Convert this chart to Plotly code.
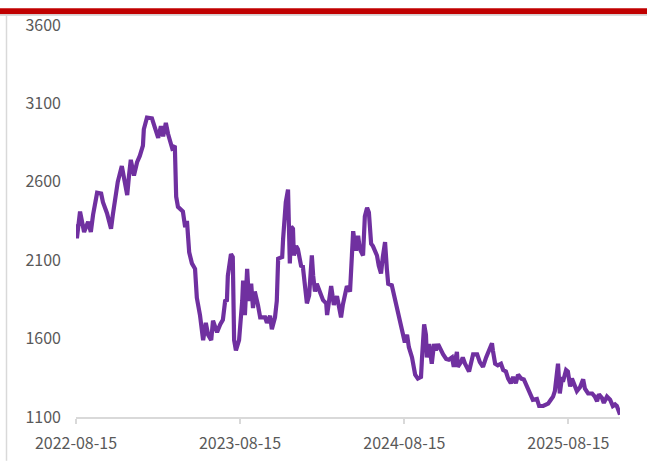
import plotly.graph_objects as go

dates = [
    "2022-08-15", "2022-08-17", "2022-08-24", "2022-09-02", "2022-09-11", "2022-09-17", "2022-09-22",
    "2022-10-01", "2022-10-10", "2022-10-14", "2022-10-23", "2022-11-01", "2022-11-05", "2022-11-10",
    "2022-11-16", "2022-11-25", "2022-11-30", "2022-12-07", "2022-12-11", "2022-12-15", "2022-12-22",
    "2022-12-29", "2023-01-04", "2023-01-11", "2023-01-13", "2023-01-20", "2023-01-31", "2023-02-09",
    "2023-02-14", "2023-02-20", "2023-02-25", "2023-03-03", "2023-03-08", "2023-03-17", "2023-03-23",
    "2023-03-26", "2023-03-30", "2023-04-10", "2023-04-15", "2023-04-19", "2023-04-24", "2023-04-30",
    "2023-05-07", "2023-05-11", "2023-05-18", "2023-05-25", "2023-05-31", "2023-06-05", "2023-06-12",
    "2023-06-16", "2023-06-25", "2023-07-02", "2023-07-08", "2023-07-13", "2023-07-17", "2023-07-19",
    "2023-07-26", "2023-07-30", "2023-08-02", "2023-08-06", "2023-08-13", "2023-08-20", "2023-08-22",
    "2023-08-26", "2023-08-31", "2023-09-04", "2023-09-09", "2023-09-13", "2023-09-17", "2023-09-24",
    "2023-09-29", "2023-10-10", "2023-10-14", "2023-10-21", "2023-10-25", "2023-11-01", "2023-11-05",
    "2023-11-08", "2023-11-17", "2023-11-19", "2023-11-21", "2023-11-25", "2023-11-30", "2023-12-02",
    "2023-12-04", "2023-12-07", "2023-12-11", "2023-12-13", "2023-12-18", "2023-12-22", "2023-12-29",
    "2024-01-02", "2024-01-07", "2024-01-11", "2024-01-16", "2024-01-22", "2024-01-25", "2024-01-29",
    "2024-02-02", "2024-02-07", "2024-02-11", "2024-02-16", "2024-02-23", "2024-02-25", "2024-03-05",
    "2024-03-11", "2024-03-18", "2024-03-27", "2024-03-31", "2024-04-09", "2024-04-16", "2024-04-20",
    "2024-04-23", "2024-04-29", "2024-05-04", "2024-05-08", "2024-05-15", "2024-05-19", "2024-05-24",
    "2024-05-28", "2024-06-02", "2024-06-06", "2024-06-15", "2024-06-19", "2024-06-24", "2024-06-28",
    "2024-07-03", "2024-07-07", "2024-07-10", "2024-07-18", "2024-07-23", "2024-07-30", "2024-08-05",
    "2024-08-12", "2024-08-16", "2024-08-21", "2024-08-25", "2024-09-01", "2024-09-08", "2024-09-14",
    "2024-09-21", "2024-09-23", "2024-09-28", "2024-10-02", "2024-10-04", "2024-10-09", "2024-10-15",
    "2024-10-20", "2024-10-24", "2024-10-29", "2024-11-04", "2024-11-09", "2024-11-16", "2024-11-22",
    "2024-11-29", "2024-12-03", "2024-12-10", "2024-12-12", "2024-12-19", "2024-12-23", "2024-12-28",
    "2025-01-06", "2025-01-15", "2025-01-24", "2025-01-30", "2025-02-06", "2025-02-13", "2025-02-19",
    "2025-02-26", "2025-02-28", "2025-03-05", "2025-03-11", "2025-03-18", "2025-03-23", "2025-03-29",
    "2025-04-03", "2025-04-09", "2025-04-14", "2025-04-20", "2025-04-25", "2025-05-02", "2025-05-08",
    "2025-05-15", "2025-05-22", "2025-05-28", "2025-06-06", "2025-06-11", "2025-06-20", "2025-06-26",
    "2025-07-01", "2025-07-07", "2025-07-12", "2025-07-16", "2025-07-21", "2025-07-23", "2025-07-27",
    "2025-08-01", "2025-08-03", "2025-08-10", "2025-08-14", "2025-08-19", "2025-08-23", "2025-08-30",
    "2025-09-03", "2025-09-10", "2025-09-17", "2025-09-21", "2025-09-28", "2025-10-07", "2025-10-13",
    "2025-10-18", "2025-10-22", "2025-10-29", "2025-11-02", "2025-11-09", "2025-11-16", "2025-11-22",
    "2025-11-27", "2025-12-01", "2025-12-06", "2025-12-08",
]

values = [
    2330, 2240, 2410, 2280, 2345, 2280, 2390,
    2530, 2525, 2470, 2400, 2300, 2390, 2505,
    2600, 2700, 2610, 2515, 2640, 2740, 2640,
    2725, 2765, 2830, 2935, 3010, 3005, 2935,
    2880, 2955, 2890, 2975, 2905, 2815, 2830,
    2505, 2440, 2410, 2310, 2350, 2150, 2080,
    2045, 1860, 1750, 1590, 1700, 1625, 1590,
    1715, 1640, 1690, 1720, 1840, 1845, 2000,
    2140, 2120, 1590, 1525, 1590, 1840, 1970,
    1750, 2045, 1840, 1950, 1795, 1900, 1815,
    1735, 1735, 1700, 1745, 1660, 1735, 1840,
    2110, 2120, 2235, 2360, 2470, 2550, 2300,
    2080, 2315, 2300, 2130, 2190, 2170, 2065,
    2060, 1940, 1825, 1875, 2130, 2000, 1900,
    1950, 1910, 1880, 1845, 1825, 1750, 1935,
    1815, 1870, 1735, 1815, 1935, 1900, 2110,
    2285, 2160, 2255, 2170, 2130, 2380, 2435,
    2405, 2205, 2190, 2130, 2065, 2015, 2120,
    2215, 2045, 1950, 1940, 1875, 1785, 1715,
    1625, 1575, 1625, 1545, 1480, 1370, 1345,
    1355, 1465, 1690, 1625, 1480, 1565, 1440,
    1565, 1525, 1565, 1525, 1500, 1470, 1465,
    1480, 1420, 1515, 1420, 1450, 1480, 1440,
    1390, 1500, 1500, 1450, 1420, 1480, 1525,
    1570, 1525, 1440, 1430, 1440, 1400, 1390,
    1345, 1315, 1355, 1315, 1370, 1345, 1340,
    1295, 1250, 1210, 1215, 1170, 1170, 1180,
    1185, 1210, 1230, 1265, 1375, 1440, 1250,
    1355, 1325, 1400, 1390, 1295, 1345, 1295,
    1265, 1290, 1340, 1280, 1250, 1250, 1230,
    1200, 1245, 1220, 1190, 1230, 1210, 1170,
    1180, 1170, 1130, 1115,
]

x_ticks = ["2022-08-15", "2023-08-15", "2024-08-15", "2025-08-15"]
y_ticks = [1100, 1600, 2100, 2600, 3100, 3600]

W, H = 647, 466
L, R, T, B = 76, 27, 23, 44.5
pw, ph = W - L - R, H - T - B


def px(x):
    return (x - L) / pw


def py(y):
    return (H - B - y) / ph


fig = go.Figure()
fig.add_trace(go.Scatter(
    x=dates, y=values, mode="lines",
    line=dict(color="#7030A0", width=4.2),
    showlegend=False,
))

font = dict(family="Noto Sans CJK SC, Noto Sans, sans-serif", size=16, color="#595959")

fig.update_layout(
    width=W, height=H,
    margin=dict(l=L, r=R, t=T, b=B, pad=0),
    paper_bgcolor="white", plot_bgcolor="white",
    font=font,
    xaxis=dict(
        type="date",
        range=[dates[0], dates[-1]],
        tickvals=x_ticks, ticktext=x_ticks,
        showgrid=False, zeroline=False,
        showline=True, linecolor="#D9D9D9", linewidth=1.5,
        ticks="outside", ticklen=5, tickcolor="#D9D9D9", tickwidth=1.5,
        ticklabelstandoff=6,
        tickfont=font,
    ),
    yaxis=dict(
        range=[1100, 3600],
        tickvals=y_ticks,
        showgrid=False, zeroline=False, showline=False,
        ticks="", ticklabelstandoff=14,
        tickfont=font,
    ),
    shapes=[
        dict(type="rect", xref="paper", yref="paper",
             x0=px(0), x1=px(W), y0=py(12), y1=py(6),
             fillcolor="#C00000", line=dict(width=0), layer="above"),
        dict(type="line", xref="paper", yref="paper",
             x0=px(0), x1=px(W), y0=py(12.8), y1=py(12.8),
             line=dict(color="#D0D0D0", width=1.5)),
        dict(type="line", xref="paper", yref="paper",
             x0=px(6.5), x1=px(6.5), y0=py(13), y1=py(H),
             line=dict(color="#D9D9D9", width=1.5)),
    ],
)

fig.write_html(
    "out.html",
    config={"displayModeBar": False},
    post_script="document.body.style.margin='0';document.body.style.overflow='hidden';",
)
